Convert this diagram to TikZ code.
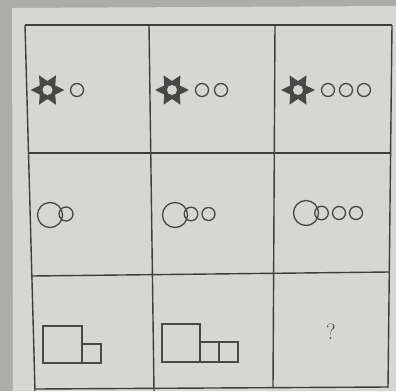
\documentclass[tikz,border=0pt]{standalone}
\usetikzlibrary{shapes.geometric}
\usepackage{xcolor}
\definecolor{fondo_color}{RGB}{172, 172, 170}
\definecolor{papel_color}{RGB}{214, 214, 210}
\definecolor{linea_color}{RGB}{62, 62, 62}
\definecolor{forma_color}{RGB}{72, 72, 72}

\begin{document}
\begin{tikzpicture}[x=1pt, y=-1pt,
    rejilla/.style={line width=1.4pt, linea_color},
    trazo/.style={line width=1.3pt, forma_color},
    estrella/.style={star, star points=6, star point ratio=1.9, minimum size=34pt,
      inner sep=0pt, fill=forma_color, shape border rotate=30}]

      % 1. Fondo y hoja de papel
      \fill[fondo_color] (0,0) rectangle (396,391);
      \fill[papel_color] (12,8) -- (396,6) -- (396,391) -- (13,391) -- cycle;
      \useasboundingbox (0,0) rectangle (396,391);

      % 2. Cuadrícula 3x3 (un poco torcida, como en la foto)
      \draw[rejilla] (25,25) -- (392,25);
      \draw[rejilla] (28.5,153) -- (390,153);
      \draw[rejilla] (32,276) -- (389,272);
      \draw[rejilla] (35,389) -- (388,387);
      \draw[rejilla] (25,25) -- (35,391);
      \draw[rejilla] (149,25) -- (154,391);
      \draw[rejilla] (275,25) -- (273,388);
      \draw[rejilla] (392,25) -- (388,388);

      % 3. FILA 1: estrella + círculos
      % Celda 1
      \node[estrella] (e1) at (47.5,90) {};
      \fill[papel_color] (e1.center) circle (5pt);
      \draw[trazo] (77,90) circle (6.5pt);

      % Celda 2
      \node[estrella] (e2) at (172,90) {};
      \fill[papel_color] (e2.center) circle (5pt);
      \draw[trazo] (202,90) circle (6.5pt);
      \draw[trazo] (221,90) circle (6.5pt);

      % Celda 3
      \node[estrella] (e3) at (298,90) {};
      \fill[papel_color] (e3.center) circle (5pt);
      \draw[trazo] (328,90) circle (6.5pt);
      \draw[trazo] (346,90) circle (6.5pt);
      \draw[trazo] (364,90) circle (6.5pt);

      % 4. FILA 2: círculo grande + círculos pequeños
      % Celda 1
      \draw[trazo] (50,215) circle (12.5pt);
      \draw[trazo] (66,214) circle (7pt);

      % Celda 2
      \draw[trazo] (175,215) circle (12.5pt);
      \draw[trazo] (191,214) circle (6.8pt);
      \draw[trazo] (208.5,214) circle (6.5pt);

      % Celda 3
      \draw[trazo] (306,213) circle (12.5pt);
      \draw[trazo] (321.5,213) circle (6.8pt);
      \draw[trazo] (339,213) circle (6.5pt);
      \draw[trazo] (356,213) circle (6.5pt);

      % 5. FILA 3: cuadrado grande + cuadrados pequeños
      % Celda 1
      \draw[trazo] (43,326) rectangle (82,363);
      \draw[trazo] (82,344) rectangle (101,363);

      % Celda 2
      \draw[trazo] (162,324) rectangle (200,362);
      \draw[trazo] (200,342) rectangle (219,362);
      \draw[trazo] (219,342) rectangle (238,362);

      % Celda 3
      \node[forma_color, font=\fontsize{22}{26}\selectfont] (q) at (331,332) {?};

\end{tikzpicture}
\end{document}
